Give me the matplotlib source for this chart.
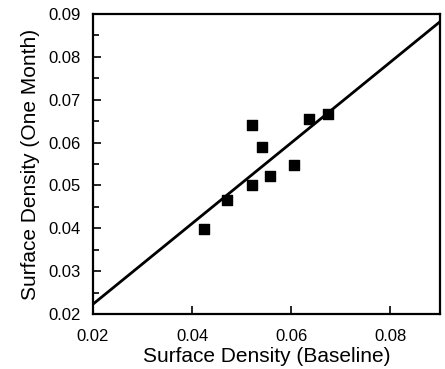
import matplotlib
matplotlib.use('Agg')
import matplotlib.pyplot as plt
from matplotlib.ticker import MultipleLocator

plt.rcParams['font.family'] = ['Liberation Sans', 'DejaVu Sans']

# 数据
baseline = [0.0424, 0.0471, 0.0520, 0.0521, 0.0541, 0.0557, 0.0605, 0.0635, 0.0674]
one_month = [0.0398, 0.0467, 0.0501, 0.0640, 0.0590, 0.0522, 0.0548, 0.0654, 0.0667]
fit_x = [0.02, 0.09]
fit_y = [0.0223, 0.0882]

fig = plt.figure(figsize=(4.45, 3.69), dpi=100)
ax = fig.add_axes([93 / 445, 1 - 314 / 369, (440 - 93) / 445, (314 - 14) / 369])

ax.plot(fit_x, fit_y, color='black', linewidth=2.0)
ax.scatter(baseline, one_month, marker='s', s=62, color='black', zorder=3)

ax.set_xlim(0.02, 0.09)
ax.set_ylim(0.02, 0.09)
ax.xaxis.set_major_locator(MultipleLocator(0.02))
ax.yaxis.set_major_locator(MultipleLocator(0.01))
ax.yaxis.set_minor_locator(MultipleLocator(0.005))
ax.xaxis.set_major_formatter(plt.FormatStrFormatter('%.2f'))
ax.yaxis.set_major_formatter(plt.FormatStrFormatter('%.2f'))

for s in ax.spines.values():
    s.set_linewidth(1.6)
ax.tick_params(which='both', direction='in', width=1.2, labelsize=12)
ax.tick_params(axis='x', pad=11)
ax.tick_params(axis='y', pad=9)
ax.tick_params(which='major', length=6)
ax.tick_params(which='minor', length=4)

ax.set_xlabel('Surface Density (Baseline)', fontsize=15, labelpad=2)
ax.set_ylabel('Surface Density (One Month)', fontsize=15, labelpad=6)

fig.savefig('out.png', dpi=100)
